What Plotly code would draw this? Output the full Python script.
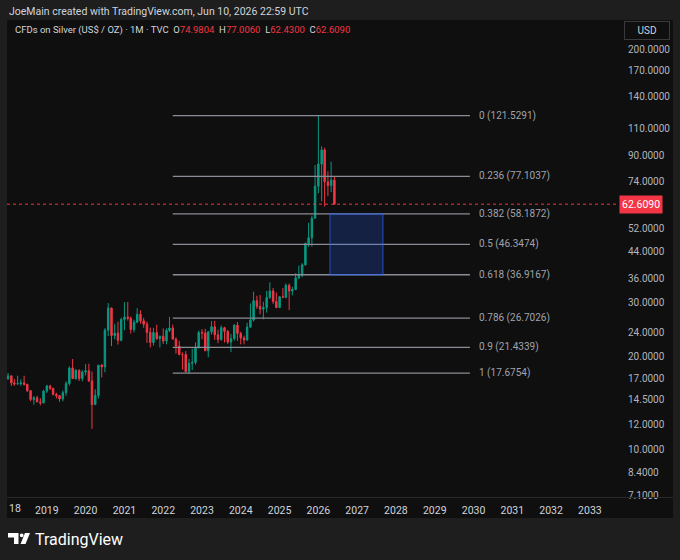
import math
import plotly.graph_objects as go
import pandas as pd

# ---------------- data ----------------
start_month = "2017-11-01"
opens = [16.73, 16.44, 16.92, 17.32, 16.43, 16.30, 16.34, 16.44, 16.27, 15.51, 14.52, 14.69, 14.25, 14.15,
         15.45, 16.06, 15.78, 15.08, 14.94, 14.57, 15.27, 16.35, 18.37, 16.96, 18.07, 16.98,
         17.83, 17.99, 16.68, 13.97, 14.96, 18.76, 18.52, 24.38, 28.77, 23.43, 23.85, 22.60,
         26.41, 26.90, 26.63, 24.50, 25.88, 27.47, 26.14, 25.50, 23.97, 22.23, 23.94, 22.86,
         23.30, 22.47, 24.32, 24.79, 22.80, 21.65, 20.33, 20.33, 17.86, 19.03, 19.16, 21.48,
         23.95, 23.86, 20.91, 24.09, 25.02, 23.55, 22.75, 24.84, 24.16, 22.30, 22.89, 25.32,
         23.80, 22.98, 22.66, 24.96, 26.30, 30.41, 29.14, 28.54, 28.89, 31.14, 32.71, 30.22,
         28.88, 31.31, 31.18, 34.08, 32.68, 33.03, 36.07, 36.73, 39.76, 46.65, 48.70, 56.40,
         71.60, 84.50, 94.00, 74.00, 72.00, 74.9804]
highs = [17.36, 17.18, 17.70, 17.37, 16.91, 17.34, 16.87, 17.33, 16.30, 15.56, 14.88, 14.91, 14.65, 15.60,
         16.20, 16.20, 15.83, 15.26, 15.01, 15.53, 16.64, 18.59, 19.65, 18.21, 18.17, 18.07,
         18.90, 18.97, 17.90, 15.67, 18.00, 18.94, 24.75, 29.86, 28.91, 25.57, 25.98, 26.77,
         30.07, 30.10, 27.00, 26.36, 28.75, 28.30, 26.75, 26.00, 24.86, 24.82, 25.40, 23.40,
         24.70, 24.70, 26.94, 25.41, 23.10, 22.52, 20.65, 20.85, 19.66, 21.24, 22.25, 24.30,
         24.55, 24.64, 24.20, 26.09, 26.14, 24.48, 25.27, 25.01, 24.42, 23.68, 25.48, 25.92,
         24.10, 23.40, 25.77, 29.79, 32.52, 31.55, 31.75, 30.19, 32.72, 34.87, 33.44, 32.32,
         31.46, 33.40, 34.59, 34.59, 33.70, 37.32, 39.53, 40.25, 47.00, 54.47, 57.50, 83.90,
         121.5291, 96.50, 95.50, 80.00, 86.00, 77.0060]
lows = [16.35, 15.64, 16.85, 16.08, 16.08, 16.22, 16.08, 16.10, 15.35, 14.33, 13.96, 14.24, 13.90, 14.09,
        15.24, 15.58, 14.95, 14.63, 14.27, 14.32, 14.93, 16.11, 16.95, 16.83, 16.66, 16.62,
        17.39, 16.56, 11.64, 13.92, 14.63, 17.12, 17.79, 23.34, 21.65, 22.76, 21.89, 22.43,
        24.40, 26.20, 23.77, 24.00, 25.70, 25.64, 24.83, 22.16, 21.42, 21.71, 22.71, 21.42,
        22.00, 21.94, 24.05, 22.79, 20.46, 20.19, 18.15, 17.80, 17.56, 18.09, 18.85, 21.22,
        22.76, 20.83, 19.90, 23.58, 22.68, 22.11, 22.52, 22.23, 22.00, 20.68, 22.55, 22.51,
        21.93, 21.93, 22.51, 24.76, 26.02, 28.58, 27.45, 26.45, 27.80, 30.81, 29.69, 28.75,
        28.75, 31.08, 30.95, 28.33, 31.65, 32.95, 35.70, 36.23, 39.50, 45.51, 45.55, 56.20,
        68.00, 64.00, 61.50, 66.50, 68.50, 62.4300]
closes = [16.44, 16.92, 17.32, 16.43, 16.30, 16.34, 16.44, 16.27, 15.51, 14.52, 14.69, 14.25, 14.15, 15.45,
          16.06, 15.78, 15.08, 14.94, 14.57, 15.27, 16.35, 18.37, 16.96, 18.07, 16.98, 17.83,
          17.99, 16.68, 13.97, 14.96, 18.76, 18.52, 24.38, 28.77, 23.43, 23.85, 22.60, 26.41,
          26.90, 26.63, 24.50, 25.88, 27.47, 26.14, 25.50, 23.97, 22.23, 23.94, 22.86, 23.30,
          22.47, 24.32, 24.79, 22.80, 21.65, 20.33, 20.33, 17.86, 19.03, 19.16, 21.48, 23.95,
          23.86, 20.91, 24.09, 25.02, 23.55, 22.75, 24.84, 24.16, 22.30, 22.89, 25.32, 23.80,
          22.98, 22.66, 24.96, 26.30, 30.41, 29.14, 28.54, 28.89, 31.14, 32.71, 30.22, 28.88,
          31.31, 31.18, 34.08, 32.68, 33.03, 36.07, 36.73, 39.76, 46.65, 48.70, 56.40, 71.60,
          84.50, 94.00, 74.00, 72.00, 74.9804, 62.6090]

fib_ratios = ["0", "0.236", "0.382", "0.5", "0.618", "0.786", "0.9", "1"]
fib_values = [121.5291, 77.1037, 58.1872, 46.3474, 36.9167, 26.7026, 21.4339, 17.6754]
fib_start, fib_end, fib_label_x = "2022-04-01", "2029-11-28", "2030-02-06"

zone_x = ["2026-04-20", "2027-09-01"]
zone_y = [58.1872, 36.9167]

last_price = 62.6090

year_labels = [str(y) for y in range(2018, 2034)]
price_ticks = [200, 170, 140, 110, 90, 74, 52, 44, 36, 30, 24, 20, 17, 14.5, 12, 10, 8.4, 7.1]

# ---------------- layout helpers ----------------
W, H = 680, 560
ML, MR, MT, MB = 7, 63, 20, 63
PW, PH = W - ML - MR, H - MT - MB


def px(x):
    return (x - ML) / PW


def py(y):
    return (H - MB - y) / PH


BG_OUT = "#1e1e1e"
BG_PANEL = "#0f0f0f"
UP = "#089981"
DN = "#f23645"
TXT = "#d1d4dc"
FONT = "Roboto"

dates = pd.date_range(start_month, periods=len(opens), freq="MS")

fig = go.Figure()

fig.add_trace(go.Candlestick(
    x=dates, open=opens, high=highs, low=lows, close=closes,
    increasing=dict(line=dict(color=UP, width=1), fillcolor=UP),
    decreasing=dict(line=dict(color=DN, width=1), fillcolor=DN),
    whiskerwidth=0, hoverinfo="skip", showlegend=False,
))

# fib lines
fx, fy = [], []
for v in fib_values:
    fx += [fib_start, fib_end, None]
    fy += [v, v, None]
fig.add_trace(go.Scatter(x=fx, y=fy, mode="lines", line=dict(color="#8a8d96", width=1.3),
                         hoverinfo="skip", showlegend=False))

annotations = []
for r, v in zip(fib_ratios, fib_values):
    annotations.append(dict(x=fib_label_x, y=math.log10(v), xref="x", yref="y", yanchor="middle", xanchor="left",
                            text=f"{r} ({v:.4f})", showarrow=False,
                            font=dict(family=FONT, size=10, color="#a0a3ab")))

shapes = []
# panel background
shapes.append(dict(type="rect", xref="paper", yref="paper", x0=px(7), x1=px(673), y0=py(518), y1=py(20),
                   fillcolor=BG_PANEL, line=dict(width=0), layer="below"))
# time axis separator
shapes.append(dict(type="line", xref="paper", yref="paper", x0=px(7), x1=px(673), y0=py(497.5), y1=py(497.5),
                   line=dict(color="#2a2a2a", width=1)))
# zone rect
shapes.append(dict(type="rect", xref="x", yref="y", x0=zone_x[0], x1=zone_x[1], y0=zone_y[1], y1=zone_y[0],
                   fillcolor="rgba(41,98,255,0.22)", line=dict(color="rgba(41,98,255,0.75)", width=1)))
# last price dotted line
shapes.append(dict(type="line", xref="paper", yref="y", x0=0, x1=1, y0=last_price, y1=last_price,
                   line=dict(color=DN, width=1, dash="dot")))

# TradingView logo glyph
shapes.append(dict(type="path", xref="paper", yref="paper",
                   path=f"M {px(8)} {py(533)} L {px(18.5)} {py(533)} L {px(18.5)} {py(544)} L {px(14)} {py(544)} "
                        f"L {px(14)} {py(537.5)} L {px(8)} {py(537.5)} Z",
                   fillcolor="#ffffff", line=dict(width=0)))
shapes.append(dict(type="circle", xref="paper", yref="paper", x0=px(19.8), x1=px(23.6), y0=py(537.2), y1=py(533.4),
                   fillcolor="#ffffff", line=dict(width=0)))
shapes.append(dict(type="path", xref="paper", yref="paper",
                   path=f"M {px(25)} {py(533)} L {px(30)} {py(533)} L {px(25.5)} {py(544)} L {px(20.5)} {py(544)} Z",
                   fillcolor="#ffffff", line=dict(width=0)))

# header texts
annotations.append(dict(x=px(7), y=py(11), xref="paper", yref="paper", xanchor="left", yanchor="middle",
                        text="JoeMain created with TradingView.com, Jun 10, 2026 22:59 UTC", showarrow=False,
                        font=dict(family=FONT, size=10.5, color=TXT)))
o, h, l, c = opens[-1], highs[-1], lows[-1], closes[-1]
legend_text = (f"CFDs on Silver (US$ / OZ) · 1M · TVC  O<span style='color:{DN}'>{o:.4f}</span>  "
               f"H<span style='color:{DN}'>{h:.4f}</span>  L<span style='color:{DN}'>{l:.4f}</span>  "
               f"C<span style='color:{DN}'>{c:.4f}</span>")
annotations.append(dict(x=px(13), y=py(30), xref="paper", yref="paper", xanchor="left", yanchor="middle",
                        text=legend_text, showarrow=False, font=dict(family=FONT, size=9.5, color=TXT)))
# clipped 2018 label at left edge
annotations.append(dict(x=px(7), y=py(508), xref="paper", yref="paper", xanchor="left", yanchor="middle",
                        text="18", showarrow=False, font=dict(family=FONT, size=10.5, color=TXT)))
# USD box
annotations.append(dict(x=px(646.5), y=py(31), xref="paper", yref="paper", xanchor="center", yanchor="middle",
                        text="USD", showarrow=False, width=40, height=13, bordercolor="#3a3a3a", borderwidth=1,
                        borderpad=2, font=dict(family=FONT, size=10, color=TXT)))
# last price label
annotations.append(dict(x=px(619), y=math.log10(last_price), xref="paper", yref="y", xanchor="left",
                        yanchor="middle", text=f"{last_price:.4f}", showarrow=False, bgcolor=DN, borderpad=2,
                        font=dict(family=FONT, size=10.5, color="#ffffff")))
# TradingView wordmark
annotations.append(dict(x=px(33), y=py(539), xref="paper", yref="paper", xanchor="left", yanchor="middle",
                        text="TradingView", showarrow=False, font=dict(family=FONT, size=16, color="#ffffff")))

fig.update_layout(
    width=W, height=H, margin=dict(l=ML, r=MR, t=MT, b=MB),
    paper_bgcolor=BG_OUT, plot_bgcolor=BG_PANEL,
    shapes=shapes, annotations=annotations, showlegend=False, hovermode=False,
    font=dict(family=FONT, color=TXT),
)
fig.update_xaxes(
    type="date", range=["2017-12-22", "2033-09-13"], rangeslider=dict(visible=False),
    showgrid=False, zeroline=False, showline=False,
    tickvals=[f"{y}-01-01" for y in year_labels], ticktext=year_labels,
    ticks="outside", ticklen=3, tickcolor="rgba(0,0,0,0)",
    tickfont=dict(family=FONT, size=10.5, color=TXT),
)
fig.update_yaxes(
    type="log", range=[0.8448, 2.3953], side="right",
    showgrid=False, zeroline=False, showline=False,
    tickvals=price_ticks, ticktext=[f"{v:.4f}" for v in price_ticks],
    ticks="outside", ticklen=8, tickcolor="rgba(0,0,0,0)",
    tickfont=dict(family=FONT, size=10, color="#b2b5be"),
)

fig.write_html("out.html", config={"displayModeBar": False},
               post_script="document.body.style.margin='0';document.body.style.background='%s';" % BG_OUT)
